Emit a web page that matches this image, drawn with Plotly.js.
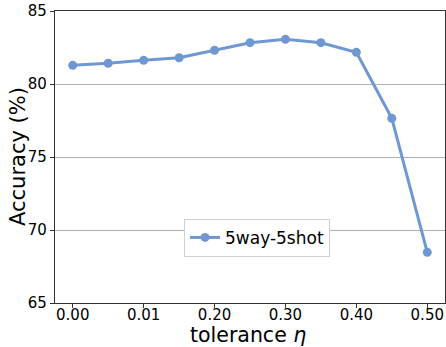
<!DOCTYPE html>
<html>
<head>
<meta charset="utf-8">
<script src="https://cdn.plot.ly/plotly-3.0.1.min.js"></script>
<style>html,body{margin:0;padding:0;background:#fff}#chart{width:446px;height:347px}</style>
</head>
<body>
<div id="chart"></div>
<script>
const tolerance = [0.00, 0.05, 0.10, 0.15, 0.20, 0.25, 0.30, 0.35, 0.40, 0.45, 0.50];
const accuracy = [81.28, 81.42, 81.62, 81.8, 82.31, 82.83, 83.06, 82.83, 82.17, 77.65, 68.47];
const seriesName = "5way-5shot";
const xTickVals = [0.0, 0.1, 0.2, 0.3, 0.4, 0.5];
const xTickText = ["0.00", "0.01", "0.20", "0.30", "0.40", "0.50"];
const yTickVals = [65, 70, 75, 80, 85];
const xTitle = "tolerance <i>η</i>";
const yTitle = "Accuracy (%)";

const color = "#6f98d2";
const font = "DejaVu Sans, sans-serif";

Plotly.newPlot("chart", [{
  x: tolerance, y: accuracy, name: seriesName,
  type: "scatter", mode: "lines+markers",
  line: {color: color, width: 3},
  marker: {color: color, size: 9}
}], {
  width: 446, height: 347,
  margin: {l: 55, r: 1, t: 11, b: 44},
  paper_bgcolor: "#fff", plot_bgcolor: "#fff",
  font: {family: font, color: "#000"},
  showlegend: true,
  legend: {x: 0.518, y: 0.223, xanchor: "center", yanchor: "middle",
    bgcolor: "#fff", bordercolor: "#d0d0d0", borderwidth: 1,
    font: {size: 17, family: font}},
  annotations: [
    {text: xTitle, xref: "paper", yref: "paper", x: 0.495, y: 0, yanchor: "middle",
     yshift: -32, borderpad: 0, showarrow: false, font: {size: 20.5, family: font, color: "#000"}},
    {text: yTitle, xref: "paper", yref: "paper", x: 0, y: 0.5, xanchor: "center",
     xshift: -37, textangle: -90, showarrow: false, font: {size: 21, family: font, color: "#000"}}
  ],
  xaxis: {
    range: [-0.025, 0.525], tickvals: xTickVals, ticktext: xTickText,
    showgrid: false, zeroline: false, automargin: false,
    showline: true, linecolor: "#333", linewidth: 1.2, mirror: true,
    ticks: "outside", ticklen: 4, tickcolor: "#333", ticklabelstandoff: -6,
    tickfont: {size: 15, family: font}
  },
  yaxis: {
    range: [65, 85], tickvals: yTickVals, automargin: false,
    showgrid: true, gridcolor: "#b0b0b0", gridwidth: 1, zeroline: false,
    showline: true, linecolor: "#333", linewidth: 1.2, mirror: true,
    ticks: "outside", ticklen: 4, tickcolor: "#333",
    tickfont: {size: 15, family: font}
  }
}, {displayModeBar: false, staticPlot: true});
</script>
</body>
</html>
